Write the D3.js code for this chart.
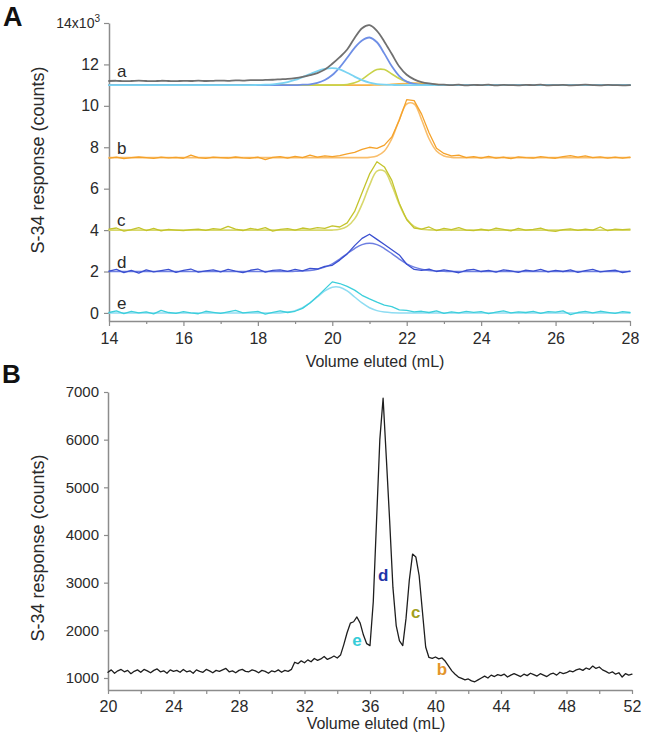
<!DOCTYPE html>
<html><head><meta charset="utf-8">
<script src="https://cdn.jsdelivr.net/npm/d3@7"></script>
<style>body{margin:0;background:#fff}svg{display:block}</style>
</head><body>
<svg id="chart" width="645" height="742"></svg>
<script>
// ---------------- DATA: panel A (response in thousands of counts) ----------------
const volA = d3.range(14, 28.0001, 0.2);
const aData = [11.20,11.21,11.19,11.20,11.22, 11.20,11.19,11.21,11.20,11.19, 11.21,11.20,11.22,11.20,11.21,
  11.22,11.21,11.23,11.22,11.24, 11.24,11.25,11.26,11.28,11.30, 11.34,11.40,11.48,11.58,11.75,
  12.03,12.35,12.72,13.28,13.75, 13.90,13.62,13.10,12.50,11.90, 11.50,11.28,11.15,11.08,11.04,
  11.02,11.00,11.02,10.99,11.01, 11.00,11.02,10.99,11.01,11.00, 10.99,11.01,11.00,11.02,10.99,
  11.00,11.01,10.99,11.00,11.02, 11.00,10.99,11.01,11.00,10.99, 11.00];
const aBlue = [11.00,11.00,11.00,11.00,11.00, 11.00,11.00,11.00,11.00,11.00, 11.00,11.00,11.00,11.00,11.00,
  11.00,11.00,11.00,11.00,11.00, 11.00,11.00,11.00,11.00,11.00, 11.00,11.02,11.04,11.11,11.25,
  11.49,11.86,12.32,12.80,13.16, 13.30,13.07,12.52,11.91,11.44, 11.17,11.06,11.01,11.00,11.00,
  11.00,11.00,11.00,11.00,11.00, 11.00,11.00,11.00,11.00,11.00, 11.00,11.00,11.00,11.00,11.00,
  11.00,11.00,11.00,11.00,11.00, 11.00,11.00,11.00,11.00,11.00, 11.00];
const aCyan = [11.00,11.00,11.00,11.00,11.00, 11.00,11.00,11.00,11.00,11.00, 11.00,11.00,11.00,11.00,11.00,
  11.00,11.00,11.00,11.00,11.00, 11.01,11.02,11.04,11.08,11.15, 11.25,11.39,11.53,11.68,11.78,
  11.82,11.76,11.60,11.41,11.24, 11.12,11.05,11.02,11.01,11.00, 11.00,11.00,11.00,11.00,11.00,
  11.00,11.00,11.00,11.00,11.00, 11.00,11.00,11.00,11.00,11.00, 11.00,11.00,11.00,11.00,11.00,
  11.00,11.00,11.00,11.00,11.00, 11.00,11.00,11.00,11.00,11.00, 11.00];
const aYellow = [11.00,11.00,11.00,11.00,11.00, 11.00,11.00,11.00,11.00,11.00, 11.00,11.00,11.00,11.00,11.00,
  11.00,11.00,11.00,11.00,11.00, 11.00,11.00,11.00,11.00,11.00, 11.00,11.00,11.00,11.00,11.00,
  11.00,11.00,11.03,11.11,11.28, 11.54,11.75,11.75,11.54,11.32, 11.16,11.07,11.03,11.01,11.00,
  11.00,11.00,11.00,11.00,11.00, 11.00,11.00,11.00,11.00,11.00, 11.00,11.00,11.00,11.00,11.00,
  11.00,11.00,11.00,11.00,11.00, 11.00,11.00,11.00,11.00,11.00, 11.00];
const aOrange = [11.00,11.00,11.00,11.00,11.00, 11.00,11.00,11.00,11.00,11.00, 11.00,11.00,11.00,11.00,11.00,
  11.00,11.00,11.00,11.00,11.00, 11.00,11.00,11.00,11.00,11.00, 11.00,11.00,11.00,11.00,11.00,
  11.00,11.00,11.00,11.00,11.00, 11.00,11.01,11.02,11.04,11.06, 11.08,11.10,11.09,11.06,11.03,
  11.01,11.00,11.00,11.00,11.00, 11.00,11.00,11.00,11.00,11.00, 11.00,11.00,11.00,11.00,11.00,
  11.00,11.00,11.00,11.00,11.00, 11.00,11.00,11.00,11.00,11.00, 11.00];
const bData = [7.48,7.52,7.45,7.50,7.53, 7.50,7.46,7.52,7.49,7.51, 7.47,7.62,7.50,7.46,7.52,
  7.50,7.48,7.53,7.49,7.47, 7.52,7.40,7.51,7.55,7.48, 7.56,7.50,7.62,7.52,7.58,
  7.55,7.60,7.68,7.75,7.90, 8.00,7.95,8.10,8.50,9.30, 10.30,10.25,9.60,8.70,7.95,
  7.70,7.58,7.62,7.50,7.55, 7.48,7.56,7.47,7.52,7.45, 7.53,7.50,7.48,7.55,7.50,
  7.47,7.55,7.60,7.52,7.58, 7.50,7.54,7.48,7.52,7.47, 7.52];
const bFit = [7.50,7.50,7.50,7.50,7.50, 7.50,7.50,7.50,7.50,7.50, 7.50,7.50,7.50,7.50,7.50,
  7.50,7.50,7.50,7.50,7.50, 7.50,7.50,7.50,7.50,7.50, 7.50,7.50,7.50,7.50,7.50,
  7.50,7.50,7.50,7.50,7.50, 7.51,7.58,7.82,8.41,9.33, 10.09,10.09,9.33,8.41,7.82,
  7.58,7.51,7.50,7.50,7.50, 7.50,7.50,7.50,7.50,7.50, 7.50,7.50,7.50,7.50,7.50,
  7.50,7.50,7.50,7.50,7.50, 7.50,7.50,7.50,7.50,7.50, 7.50];
const cData = [4.05,4.10,3.95,4.02,4.12, 3.98,4.08,3.96,4.03,4.00, 3.97,4.02,4.05,3.99,4.07,
  4.03,4.18,4.05,3.98,4.08, 4.02,4.12,3.95,4.03,4.07, 4.00,4.10,4.05,4.12,4.08,
  4.20,4.15,4.35,4.90,5.80, 6.70,7.30,7.05,6.40,5.30, 4.50,4.10,4.05,4.15,3.98,
  4.08,4.02,4.12,4.00,3.97, 4.05,3.98,4.10,4.03,3.96, 4.08,4.00,4.03,4.10,3.97,
  3.94,4.02,4.06,3.99,4.04, 4.00,4.15,3.97,4.05,4.02, 4.05];
const cFit = [4.00,4.00,4.00,4.00,4.00, 4.00,4.00,4.00,4.00,4.00, 4.00,4.00,4.00,4.00,4.00,
  4.00,4.00,4.00,4.00,4.00, 4.00,4.00,4.00,4.00,4.00, 4.00,4.00,4.00,4.00,4.00,
  4.00,4.04,4.18,4.54,5.25, 6.16,6.85,6.85,6.16,5.25, 4.54,4.18,4.04,4.01,4.00,
  4.00,4.00,4.00,4.00,4.00, 4.00,4.00,4.00,4.00,4.00, 4.00,4.00,4.00,4.00,4.00,
  4.00,4.00,4.00,4.00,4.00, 4.00,4.00,4.00,4.00,4.00, 4.00];
const dData = [2.02,2.10,1.95,2.05,1.92, 2.08,1.98,2.04,2.10,1.96, 2.05,2.12,1.97,2.03,2.08,
  1.98,2.10,2.02,1.95,2.06, 2.12,1.97,2.05,2.08,2.01, 2.10,2.03,2.15,2.12,2.25,
  2.30,2.55,2.85,3.25,3.60, 3.80,3.55,3.30,3.05,2.80, 2.35,2.10,2.05,2.12,2.00,
  2.08,2.02,1.94,2.06,2.10, 2.00,2.05,1.97,2.08,2.03, 1.96,2.07,2.02,2.10,1.98,
  2.05,2.00,2.08,1.96,2.04, 2.10,1.98,2.03,2.07,1.95, 2.02];
const dFit = [2.00,2.00,2.00,2.00,2.00, 2.00,2.00,2.00,2.00,2.00, 2.00,2.00,2.00,2.00,2.00,
  2.00,2.00,2.00,2.00,2.00, 2.00,2.00,2.00,2.00,2.00, 2.01,2.02,2.05,2.11,2.21,
  2.37,2.60,2.86,3.11,3.30, 3.37,3.30,3.11,2.86,2.60, 2.37,2.21,2.11,2.05,2.02,
  2.01,2.00,2.00,2.00,2.00, 2.00,2.00,2.00,2.00,2.00, 2.00,2.00,2.00,2.00,2.00,
  2.00,2.00,2.00,2.00,2.00, 2.00,2.00,2.00,2.00,2.00, 2.00];
const eData = [0.02,0.10,-0.03,0.08,0.00, 0.05,-0.05,0.12,0.02,-0.02, 0.06,0.00,-0.04,0.08,0.03,
  -0.02,0.05,0.12,0.00,0.04, 0.07,-0.06,0.03,0.10,0.02, 0.08,0.22,0.48,0.80,1.15,
  1.50,1.42,1.28,1.10,0.85, 0.68,0.52,0.38,0.30,0.15, 0.12,0.05,0.08,0.02,0.10,
  -0.02,0.05,0.00,0.07,0.03, 0.06,-0.03,0.04,0.10,0.00, 0.05,0.02,0.08,-0.02,0.06,
  0.04,0.10,-0.08,0.02,0.07, 0.00,0.08,0.03,-0.02,0.06, 0.02];
const eFit = [0.00,0.00,0.00,0.00,0.00, 0.00,0.00,0.00,0.00,0.00, 0.00,0.00,0.00,0.00,0.00,
  0.00,0.00,0.00,0.00,0.00, 0.00,0.00,0.00,0.00,0.04, 0.11,0.25,0.48,0.77,1.06,
  1.24,1.24,1.06,0.77,0.48, 0.25,0.11,0.04,0.01,0.00, 0.00,0.00,0.00,0.00,0.00,
  0.00,0.00,0.00,0.00,0.00, 0.00,0.00,0.00,0.00,0.00, 0.00,0.00,0.00,0.00,0.00,
  0.00,0.00,0.00,0.00,0.00, 0.00,0.00,0.00,0.00,0.00, 0.00];
const traceLabelsA = ["a","b","c","d","e"];
const traceLabelLevelA = [11.2, 7.5, 4.0, 2.0, 0.0];
const xTicksA = [14,16,18,20,22,24,26,28];
const xMinorA = [15,17,19,21,23,25,27];
const yTicksA = [0,2,4,6,8,10,12,14];

// ---------------- DATA: panel B (counts) ----------------
const volB = d3.range(20, 52.0001, 0.2);
const respB = [1120,1170,1100,1150,1180, 1130,1160,1090,1140,1170, 1120,1180,1150,1110,1160,
  1190,1130,1150,1100,1170, 1140,1160,1120,1180,1130, 1150,1100,1170,1140,1120,
  1180,1150,1110,1160,1140, 1170,1200,1130,1150,1110, 1160,1180,1140,1130,1170,
  1150,1110,1160,1140,1100, 1150,1130,1170,1120,1160, 1140,1180,1330,1300,1360,
  1320,1380,1340,1410,1370, 1400,1450,1390,1420,1460, 1420,1480,1700,1950,2150,
  2180,2280,2150,1900,1720, 1680,2600,4300,6000,6870, 5600,4300,2900,2100,1780,
  1680,2250,3050,3600,3540, 3150,2400,1650,1430,1410, 1440,1400,1420,1350,1250,
  1150,1080,1020,990,960, 980,940,920,960,1000, 1040,1000,1060,1030,1070,
  1050,1080,1020,1060,1090, 1060,1030,1080,1050,1100, 1070,1040,1090,1060,1030,
  1080,1100,1060,1120,1090, 1110,1150,1130,1170,1190, 1160,1210,1180,1250,1200,
  1230,1170,1140,1100,1130, 1080,1110,1020,1090,1060, 1080];
const peakLabelsB = ["e","d","c","b"];
const peakLabelVolB = [35.2, 36.8, 38.8, 40.4];
const peakLabelRespB = [1670, 3035, 2260, 1065];
const peakLabelColorsB = ["#35ccd8","#1f35a8","#a3a01e","#e3952a"];
const xTicksB = [20,24,28,32,36,40,44,48,52];
const xMinorB = [22,26,30,34,38,42,46,50];
const yTicksB = [1000,2000,3000,4000,5000,6000,7000];

// ---------------- DRAW ----------------
const FONT = "Arial, 'Liberation Sans', Helvetica, sans-serif";
const AXC = "#8c8c8c", TXT = "#2a2a2a";
const svg = d3.select("#chart");

function styleAxis(g, fs) {
  g.attr("font-family", FONT).attr("font-size", fs);
  g.select(".domain").attr("stroke", AXC).attr("stroke-width", 1.5);
  g.selectAll(".tick line").attr("stroke", AXC).attr("stroke-width", 1.2);
  g.selectAll(".tick text").attr("fill", TXT);
}
function series(g, xs, ys, x, y, color, w, curve) {
  const line = d3.line().x((d, i) => x(xs[i])).y(d => y(d)).curve(curve || d3.curveLinear);
  g.append("path").attr("d", line(ys)).attr("fill", "none").attr("stroke", color)
    .attr("stroke-width", w).attr("stroke-linejoin", "round").attr("stroke-linecap", "round");
}

// Panel A
const xA = d3.scaleLinear([14, 28], [109, 630]);
const yA = d3.scaleLinear([-0.39, 14], [321, 23]);
const gA = svg.append("g");

const axXA = gA.append("g").attr("transform", "translate(0,321)")
  .call(d3.axisBottom(xA).tickValues(xTicksA).tickSize(5).tickSizeOuter(0).tickPadding(7));
styleAxis(axXA, 16);
const axXAm = gA.append("g").attr("transform", "translate(0,321)")
  .call(d3.axisBottom(xA).tickValues(xMinorA).tickSize(3).tickFormat(""));
axXAm.select(".domain").remove(); styleAxis(axXAm, 16);

const axYA = gA.append("g").attr("transform", "translate(109,0)")
  .call(d3.axisLeft(yA).tickValues(yTicksA).tickSize(5).tickSizeOuter(0).tickPadding(5)
    .tickFormat(d => d === 14 ? "" : d));
styleAxis(axYA, 16);
const lab14 = gA.append("text").attr("x", 100).attr("y", yA(14) + 5).attr("text-anchor", "end")
  .attr("font-family", FONT).attr("font-size", 14).attr("fill", TXT);
lab14.append("tspan").text("14x10");
lab14.append("tspan").attr("font-size", 10).attr("dy", -6).text("3");

const cur = d3.curveCatmullRom.alpha(0.5);
// trace e
series(gA, volA, eFit, xA, yA, "#8edcf2", 1.5, cur);
series(gA, volA, eData, xA, yA, "#3ccfdb", 1.3);
// trace d
series(gA, volA, dFit, xA, yA, "#6e7fe2", 1.5, cur);
series(gA, volA, dData, xA, yA, "#3a4fd0", 1.3);
// trace c
series(gA, volA, cFit, xA, yA, "#d8d86c", 1.6, cur);
series(gA, volA, cData, xA, yA, "#c4c42c", 1.3);
// trace b
series(gA, volA, bFit, xA, yA, "#f9be6c", 1.6, cur);
series(gA, volA, bData, xA, yA, "#f5a22a", 1.3);
// trace a and components
series(gA, volA, aOrange, xA, yA, "#f7b347", 1.6, cur);
series(gA, volA, aYellow, xA, yA, "#c9d24a", 1.6, cur);
series(gA, volA, aBlue, xA, yA, "#6f8fe6", 1.8, cur);
series(gA, volA, aCyan, xA, yA, "#7ad3f2", 1.8, cur);
series(gA, volA, aData, xA, yA, "#707070", 1.8, cur);

gA.selectAll("text.tl").data(traceLabelsA).join("text").attr("class", "tl")
  .attr("x", 117).attr("y", (d, i) => yA(traceLabelLevelA[i]) - 4)
  .attr("font-family", FONT).attr("font-size", 17).attr("fill", TXT).text(d => d);

gA.append("text").attr("x", 375).attr("y", 367).attr("text-anchor", "middle")
  .attr("font-family", FONT).attr("font-size", 16).attr("fill", TXT).text("Volume eluted (mL)");
gA.append("text").attr("transform", "translate(44,160) rotate(-90)").attr("text-anchor", "middle")
  .attr("font-family", FONT).attr("font-size", 18).attr("fill", TXT).text("S-34 response (counts)");
svg.append("text").attr("x", 3).attr("y", 26).attr("font-family", FONT).attr("font-size", 27)
  .attr("font-weight", "bold").attr("fill", "#111").text("A");

// Panel B
const xB = d3.scaleLinear([20, 52], [108, 632]);
const yB = d3.scaleLinear([748, 7000], [690, 392]);
const gB = svg.append("g");
const axXB = gB.append("g").attr("transform", "translate(0,690)")
  .call(d3.axisBottom(xB).tickValues(xTicksB).tickSize(4).tickSizeOuter(0).tickPadding(7));
styleAxis(axXB, 16);
const axXBm = gB.append("g").attr("transform", "translate(0,690)")
  .call(d3.axisBottom(xB).tickValues(xMinorB).tickSize(4).tickFormat(""));
axXBm.select(".domain").remove(); styleAxis(axXBm, 16);
const axYB = gB.append("g").attr("transform", "translate(108,0)")
  .call(d3.axisLeft(yB).tickValues(yTicksB).tickSize(4).tickSizeOuter(0).tickPadding(5)
    .tickFormat(d3.format("d")));
styleAxis(axYB, 15);

series(gB, volB, respB, xB, yB, "#1e1e1e", 1.3);

gB.selectAll("text.pl").data(peakLabelsB).join("text").attr("class", "pl")
  .attr("x", (d, i) => xB(peakLabelVolB[i])).attr("y", (d, i) => yB(peakLabelRespB[i]))
  .attr("text-anchor", "middle").attr("font-family", FONT).attr("font-size", 17)
  .attr("font-weight", "bold").attr("fill", (d, i) => peakLabelColorsB[i]).text(d => d);

gB.append("text").attr("x", 376).attr("y", 729).attr("text-anchor", "middle")
  .attr("font-family", FONT).attr("font-size", 16).attr("fill", TXT).text("Volume eluted (mL)");
gB.append("text").attr("transform", "translate(44,548) rotate(-90)").attr("text-anchor", "middle")
  .attr("font-family", FONT).attr("font-size", 18).attr("fill", TXT).text("S-34 response (counts)");
svg.append("text").attr("x", 2).attr("y", 383).attr("font-family", FONT).attr("font-size", 26)
  .attr("font-weight", "bold").attr("fill", "#111").text("B");
</script></body></html>
